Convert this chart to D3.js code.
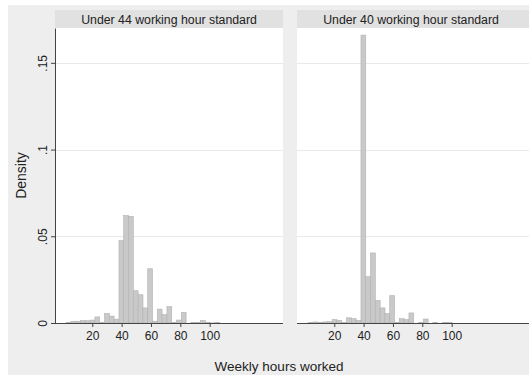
<!DOCTYPE html>
<html lang="en">
<head>
<meta charset="UTF-8">
<title>Weekly hours worked</title>
<style>
  body { margin: 0; background: #fff; }
  svg { display: block; font-family: "Liberation Sans", Arial, sans-serif; }
</style>
</head>
<body>
<div id="my_dataviz"></div>
<script src="https://d3js.org/d3.v7.min.js"></script>
<script>

// bin lower edges (hours), each bin is binWidth wide
var binWidth = 3.27;
var binStart = [2.2, 5.5, 8.7, 12.0, 15.3, 18.6, 21.8, 25.1, 28.4, 31.6, 34.9,
                38.2, 41.4, 44.7, 48.0, 51.3, 54.5, 57.8, 61.1, 64.3, 67.6, 70.9,
                74.1, 77.4, 80.7, 83.9, 87.2, 90.5, 93.8, 97.0, 100.3, 103.6, 106.8];

// density per bin, one array for each panel
var under44Density = [0.0004, 0.001, 0.001, 0.0015, 0.0013, 0.0017, 0.0035, 0.0004, 0.0055, 0.004, 0.0022,
                      0.0475, 0.062, 0.0615, 0.0186, 0.0163, 0.0087, 0.0313, 0.001, 0.008, 0.0048, 0.0094,
                      0.0004, 0.0017, 0.0062, 0, 0.0004, 0.0003, 0.0015, 0.0004, 0.0001, 0.0003, 0];
var under40Density = [0.0002, 0.0006, 0.0004, 0.0006, 0.0008, 0.002, 0.0015, 0.0004, 0.003, 0.0025, 0.0015,
                      0.166, 0.0267, 0.0404, 0.013, 0.0087, 0.0054, 0.0158, 0.0004, 0.0025, 0.002, 0.0058,
                      0, 0.0002, 0.0023, 0, 0.0004, 0, 0.0003, 0.0002, 0, 0, 0];

var panelTitles = ["Under 44 working hour standard", "Under 40 working hour standard"];
var xTicks = [20, 40, 60, 80, 100];
var yTicks = [0, 0.05, 0.1, 0.15];
var yTickLabels = ["0", ".05", ".1", ".15"];

var W = 529, H = 377;
var plotTop = 28, plotBottom = 323;
var panels = [
  { left: 55, width: 228, data: under44Density, title: panelTitles[0] },
  { left: 297, width: 240, data: under40Density, title: panelTitles[1] }
];

var svg = d3.select("#my_dataviz")
  .append("svg")
    .attr("width", W)
    .attr("height", H);

// outer background
svg.append("rect").attr("width", W).attr("height", H).attr("fill", "#fff");
svg.append("rect")
  .attr("x", 8).attr("y", 5)
  .attr("width", W - 8).attr("height", 370)
  .attr("fill", "#eeeeee");

// shared scales
var y = d3.scaleLinear()
  .domain([0, 0.1701])
  .range([plotBottom, plotTop]);

var xBase = d3.scaleLinear()
  .domain([-5.4, 150])
  .range([0, 228]);

panels.forEach(function(p, pi) {
  var x = xBase.copy()
    .domain([-5.4, xBase.invert(p.width)])
    .range([0, p.width]);

  var g = svg.append("g")
    .attr("transform", "translate(" + p.left + ",0)");

  // strip header
  g.append("rect")
    .attr("x", 0).attr("y", 10)
    .attr("width", p.width).attr("height", plotTop - 10)
    .attr("fill", "#e1e1e1");
  g.append("text")
    .attr("x", 114)
    .attr("y", 23.5)
    .attr("text-anchor", "middle")
    .style("font-size", "12.3px")
    .attr("fill", "#222")
    .text(p.title);

  // plot area
  g.append("rect")
    .attr("x", 0).attr("y", plotTop)
    .attr("width", p.width).attr("height", plotBottom - plotTop)
    .attr("fill", "#fff");

  // gridlines
  g.selectAll(".grid")
    .data(yTicks.slice(1))
    .enter()
    .append("line")
      .attr("x1", 0).attr("x2", p.width)
      .attr("y1", function(d) { return Math.round(y(d)) + 0.5; })
      .attr("y2", function(d) { return Math.round(y(d)) + 0.5; })
      .attr("stroke", "#e9e9e9")
      .attr("stroke-width", 1);

  // bars
  g.selectAll(".bar")
    .data(p.data.map(function(v, i) { return { x0: binStart[i], v: v }; }).filter(function(d) { return d.v > 0; }))
    .enter()
    .append("rect")
      .attr("x", function(d) { return x(d.x0); })
      .attr("width", function(d) { return x(d.x0 + binWidth) - x(d.x0); })
      .attr("y", function(d) { return y(d.v); })
      .attr("height", function(d) { return y(0) - y(d.v); })
      .attr("fill", "#c9c9c9")
      .attr("stroke", "#b2b2b2")
      .attr("stroke-width", 0.6);

  // x axis
  var xAxis = g.append("g")
    .attr("transform", "translate(0," + plotBottom + ")")
    .call(d3.axisBottom(x).tickValues(xTicks).tickSize(4).tickSizeOuter(0));
  xAxis.select(".domain").remove();
  xAxis.append("line")
    .attr("x1", 0).attr("x2", p.width)
    .attr("y1", 0.5).attr("y2", 0.5)
    .attr("stroke", "#444");
  xAxis.selectAll(".tick line").attr("stroke", "#444");
  xAxis.selectAll(".tick text")
    .attr("y", 8)
    .style("font-size", "12px")
    .style("font-family", "\"Liberation Sans\", Arial, sans-serif")
    .attr("fill", "#222");

  // y axis, first panel only
  if (pi == 0) {
    var yAxis = g.append("g")
      .call(d3.axisLeft(y).tickValues(yTicks).tickSize(4).tickSizeOuter(0)
        .tickFormat(function(d, i) { return yTickLabels[i]; }));
    yAxis.select(".domain").attr("stroke", "#444");
    yAxis.selectAll(".tick line").attr("stroke", "#444");
    yAxis.selectAll(".tick text")
      .attr("x", null).attr("dy", null)
      .attr("text-anchor", "middle")
      .attr("transform", "translate(-8,0) rotate(-90)")
      .style("font-size", "12px")
      .style("font-family", "\"Liberation Sans\", Arial, sans-serif")
      .attr("fill", "#222");
  }
});

// axis titles
svg.append("text")
  .attr("x", 279)
  .attr("y", 370.5)
  .attr("text-anchor", "middle")
  .style("font-size", "13.5px")
  .attr("fill", "#222")
  .text("Weekly hours worked");

svg.append("text")
  .attr("transform", "translate(26," + ((plotTop + plotBottom) / 2) + ") rotate(-90)")
  .attr("text-anchor", "middle")
  .style("font-size", "14px")
  .attr("fill", "#222")
  .text("Density");

</script>
</body>
</html>
